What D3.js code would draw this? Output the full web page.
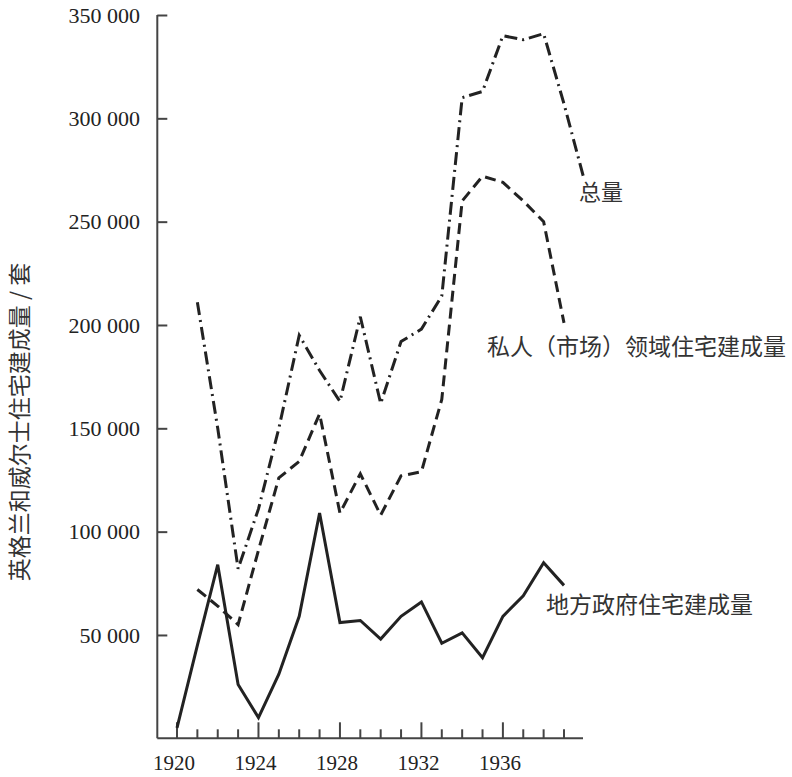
<!DOCTYPE html>
<html>
<head>
<meta charset="utf-8">
<script src="https://cdn.jsdelivr.net/npm/d3@7"></script>
<style>
  body { margin: 0; background: #fff; }
  .tick-label { font-family: "Liberation Serif", "DejaVu Serif", serif; font-size: 22px; fill: #222; }
  .cjk { font-family: "Noto Sans CJK SC", sans-serif; font-size: 21px; fill: #333; }
</style>
</head>
<body>
<div id="chart"></div>
<script>
// years and values
const yearTicks = [1920, 1924, 1928, 1932, 1936];
const valueTicks = [50000, 100000, 150000, 200000, 250000, 300000, 350000];

const localYears = [1920, 1921, 1922, 1923, 1924, 1925, 1926, 1927, 1928, 1929, 1930, 1931, 1932, 1933, 1934, 1935, 1936, 1937, 1938, 1939];
const localValues = [5000, 45000, 84000, 26000, 10000, 31000, 59000, 109000, 56000, 57000, 48000, 59000, 66000, 46000, 51000, 39000, 59000, 69000, 85000, 74000];

const privateYears = [1921, 1922, 1923, 1924, 1925, 1926, 1927, 1928, 1929, 1930, 1931, 1932, 1933, 1934, 1935, 1936, 1937, 1938, 1939];
const privateValues = [72000, 64000, 55000, 91000, 126000, 134000, 157000, 109000, 128000, 108000, 127000, 129000, 164000, 260000, 272000, 269000, 260000, 250000, 201000];

const totalYears = [1921, 1922, 1923, 1924, 1925, 1926, 1927, 1928, 1929, 1930, 1931, 1932, 1933, 1934, 1935, 1936, 1937, 1938, 1939, 1940];
const totalValues = [211000, 150000, 82000, 111000, 150000, 195000, 178000, 163000, 204000, 162000, 192000, 198000, 214000, 310000, 313000, 340000, 338000, 341000, 307000, 270000];

const width = 792;
const height = 777;
const svg = d3.select('#chart').append('svg').attr('width', width).attr('height', height);

const x = d3.scaleLinear().domain([1920, 1939]).range([177, 564]);
const y = d3.scaleLinear().domain([0, 350000]).range([738.3, 15]);

const axisColor = '#444';
const lineColor = '#222';

// axes lines
svg.append('line')
  .attr('x1', 157.3).attr('x2', 157.3)
  .attr('y1', y(350000)).attr('y2', y(0))
  .attr('stroke', axisColor).attr('stroke-width', 2);
svg.append('line')
  .attr('x1', 157.3).attr('x2', 583)
  .attr('y1', y(0)).attr('y2', y(0))
  .attr('stroke', axisColor).attr('stroke-width', 2);

// y ticks point inward
const yAxis = svg.append('g')
  .attr('transform', 'translate(157.3,0)')
  .call(d3.axisRight(y).tickValues(valueTicks).tickSize(10).tickFormat(''));
yAxis.select('.domain').remove();
yAxis.selectAll('line').attr('stroke', axisColor).attr('stroke-width', 2);

svg.selectAll('.y-label')
  .data(valueTicks)
  .enter()
  .append('text')
  .attr('class', 'tick-label')
  .attr('x', 140)
  .attr('y', (d) => y(d))
  .attr('dy', '0.35em')
  .attr('text-anchor', 'end')
  .text((d) => d3.format(',')(d).replace(',', ' '));

// x ticks: every year short, every fourth year long
const allYears = d3.range(1920, 1940);
svg.selectAll('.x-tick')
  .data(allYears)
  .enter()
  .append('line')
  .attr('x1', (d) => x(d)).attr('x2', (d) => x(d))
  .attr('y1', y(0))
  .attr('y2', (d) => y(0) - (yearTicks.includes(d) ? 16 : 9))
  .attr('stroke', axisColor).attr('stroke-width', 2);

svg.selectAll('.x-label')
  .data(yearTicks)
  .enter()
  .append('text')
  .attr('class', 'tick-label')
  .style('font-size', '21px')
  .attr('x', (d) => x(d) - 3)
  .attr('y', 770)
  .attr('text-anchor', 'middle')
  .text((d) => d);

// y axis title
svg.append('text')
  .attr('class', 'cjk')
  .attr('transform', 'translate(28,422) rotate(-90)')
  .attr('text-anchor', 'middle')
  .style('font-size', '23px')
  .text('英格兰和威尔士住宅建成量 / 套');

const line = d3.line().x((d) => x(d[0])).y((d) => y(d[1]));

svg.append('path')
  .datum(d3.zip(localYears, localValues))
  .attr('d', line)
  .attr('fill', 'none').attr('stroke', lineColor)
  .attr('stroke-width', 3).attr('stroke-linejoin', 'miter');

svg.append('path')
  .datum(d3.zip(privateYears, privateValues))
  .attr('d', line)
  .attr('fill', 'none').attr('stroke', lineColor)
  .attr('stroke-width', 3).attr('stroke-dasharray', '11,6');

svg.append('path')
  .datum(d3.zip(totalYears, totalValues))
  .attr('d', line)
  .attr('fill', 'none').attr('stroke', lineColor)
  .attr('stroke-width', 3).attr('stroke-dasharray', '13,5,2,5');

// series labels
svg.append('text').attr('class', 'cjk').attr('x', 579).attr('y', 200).style('font-size', '22px').text('总量');
svg.append('text').attr('class', 'cjk').attr('x', 487).attr('y', 355).style('font-size', '23px').text('私人（市场）领域住宅建成量');
svg.append('text').attr('class', 'cjk').attr('x', 546).attr('y', 613).style('font-size', '23px').text('地方政府住宅建成量');
</script>
</body>
</html>
